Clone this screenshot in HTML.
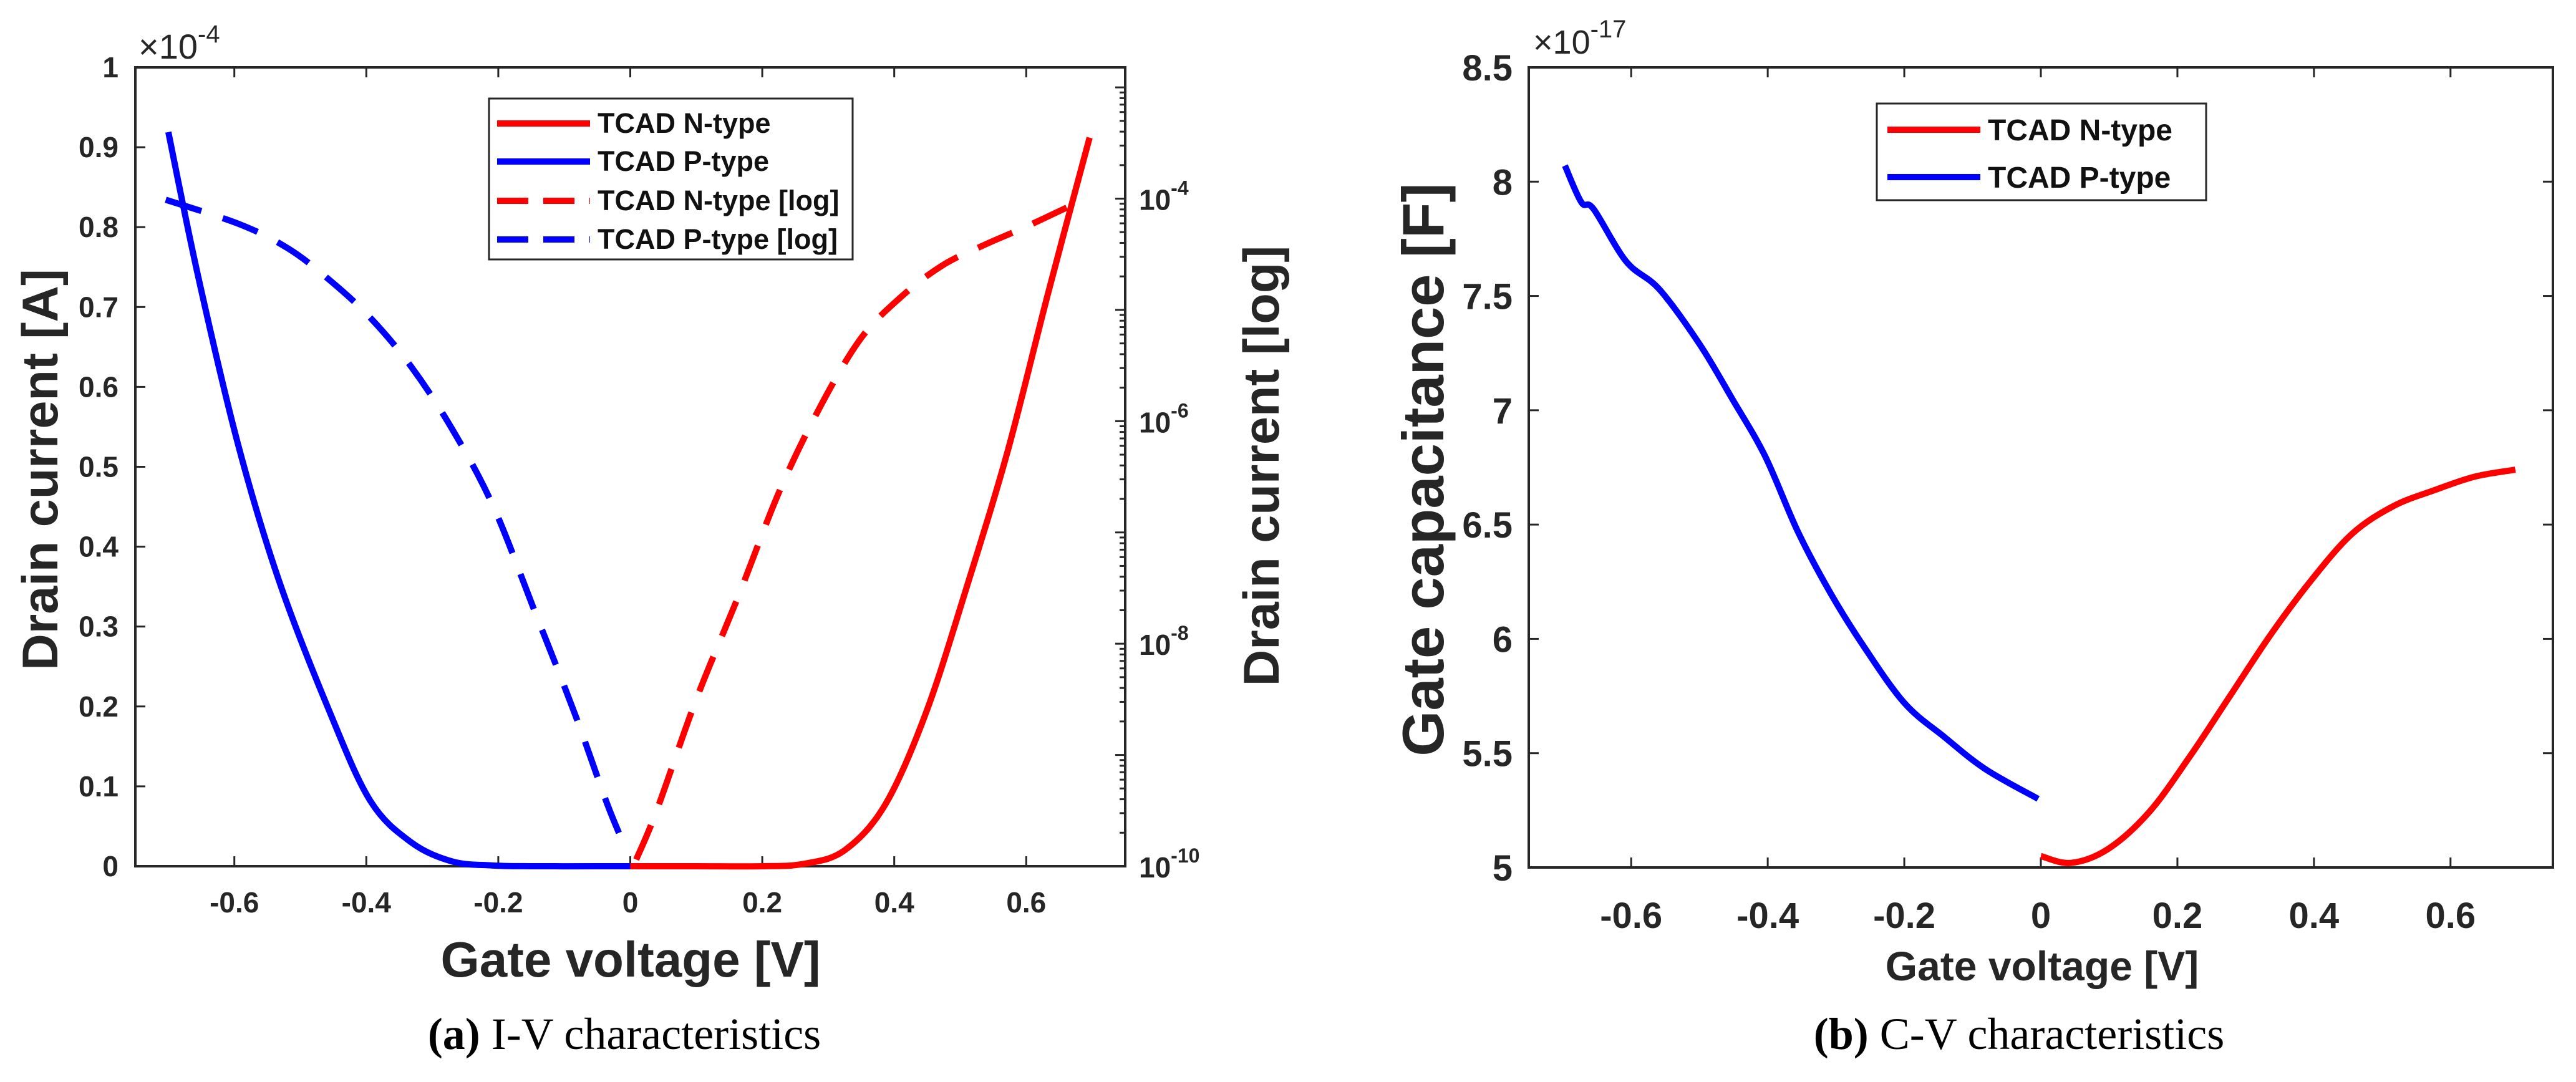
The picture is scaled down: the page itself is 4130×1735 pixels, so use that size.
<!DOCTYPE html>
<html><head><meta charset="utf-8"><style>
html,body{margin:0;padding:0;background:#fff;}
svg{display:block;}
text{font-family:"Liberation Sans",Arial,sans-serif;}
.tk{font-weight:bold;fill:#262626;}
</style></head>
<body>
<svg id="fig" width="4130" height="1735" viewBox="0 0 4130 1735" xmlns="http://www.w3.org/2000/svg">
<g id="pa"></g>
<g id="pb"></g>
<text x="1001" y="1682" text-anchor="middle" style="font-family:'Liberation Serif',serif;font-size:72px"><tspan font-weight="bold">(a)</tspan> I-V characteristics</text>
<text x="3237" y="1682" text-anchor="middle" style="font-family:'Liberation Serif',serif;font-size:72px"><tspan font-weight="bold">(b)</tspan> C-V characteristics</text>
</svg>
<script>
// ---- IV data (linear in 1e-4 A, log in log10 A)
const pX = [-0.7,-0.655,-0.595,-0.533,-0.456,-0.394,-0.332,-0.27,-0.21,-0.15,-0.05,0];
const pI = [0.919,0.739,0.53,0.359,0.194,0.082,0.03,0.006,0.001,0,0,0];
const nX = [0,0.1,0.2,0.263,0.325,0.387,0.449,0.51,0.572,0.634,0.696];
const nI = [0,0,0,0.003,0.02,0.078,0.194,0.35,0.52,0.72,0.912];
const pLogX = [-0.704,-0.592,-0.518,-0.456,-0.394,-0.332,-0.27,-0.208,-0.146,-0.084,-0.035,-0.004];
const pLog = [-4.01,-4.23,-4.45,-4.73,-5.07,-5.51,-6.07,-6.76,-7.69,-8.63,-9.44,-9.88];
const nLogX = [0.009,0.04,0.1,0.164,0.226,0.287,0.349,0.411,0.473,0.535,0.597,0.665];
const nLog = [-9.94,-9.5,-8.5,-7.57,-6.63,-5.88,-5.26,-4.88,-4.6,-4.42,-4.26,-4.07];
const xTicks = [-0.6,-0.4,-0.2,0,0.2,0.4,0.6];
const xTickLabels = ['-0.6','-0.4','-0.2','0','0.2','0.4','0.6'];
const yTicksA = [0,0.1,0.2,0.3,0.4,0.5,0.6,0.7,0.8,0.9,1];
const yTickLabelsA = ['0','0.1','0.2','0.3','0.4','0.5','0.6','0.7','0.8','0.9','1'];
const logTicks = [-10,-8,-6,-4];
// ---- CV data (1e-17 F)
const cvPX = [-0.697,-0.673,-0.655,-0.607,-0.559,-0.5,-0.452,-0.404,-0.356,-0.308,-0.26,-0.2,-0.141,-0.081,-0.004];
const cvPC = [8.07,7.91,7.88,7.65,7.53,7.29,7.05,6.8,6.47,6.2,5.97,5.72,5.57,5.43,5.3];
const cvNX = [0,0.044,0.098,0.158,0.217,0.277,0.337,0.397,0.456,0.516,0.576,0.636,0.695];
const cvNC = [5.05,5.02,5.08,5.24,5.48,5.75,6.02,6.26,6.46,6.58,6.65,6.71,6.74];
const yTicksB = [5,5.5,6,6.5,7,7.5,8,8.5];
const yTickLabelsB = ['5','5.5','6','6.5','7','7.5','8','8.5'];

const NS='http://www.w3.org/2000/svg';
function mk(parent,tag,attrs,txt){const e=document.createElementNS(NS,tag);for(const k in attrs)e.setAttribute(k,attrs[k]);if(txt!==undefined)e.textContent=txt;parent.appendChild(e);return e;}
function pathD(xs,ys,fx,fy){
  const P=xs.map((x,i)=>[fx(x),fy(ys[i])]);
  let d='M'+P[0][0].toFixed(1)+','+P[0][1].toFixed(1);
  for(let i=0;i<P.length-1;i++){
    const p0=P[Math.max(0,i-1)],p1=P[i],p2=P[i+1],p3=P[Math.min(P.length-1,i+2)];
    const c1=[p1[0]+(p2[0]-p0[0])/6,p1[1]+(p2[1]-p0[1])/6];
    const c2=[p2[0]-(p3[0]-p1[0])/6,p2[1]-(p3[1]-p1[1])/6];
    d+=' C'+c1.map(v=>v.toFixed(1)).join(',')+' '+c2.map(v=>v.toFixed(1)).join(',')+' '+p2.map(v=>v.toFixed(1)).join(',');
  }
  return d;
}

// ---- Chart A
(function(){
const g=document.getElementById('pa');
const L=217,R=1804,T=108,B=1389;
const fx=v=>L+(v+0.75)/1.5*(R-L);
const fy=v=>B-v*(B-T);
const LT=-2.82;
const fl=v=>B-(v+10)/(LT+10)*(B-T);
xTicks.forEach((t,i)=>{
  let e=mk(g,'line',{x1:fx(t),x2:fx(t),y1:B,y2:B-16,stroke:'#262626','stroke-width':3});
   
  e=mk(g,'line',{x1:fx(t),x2:fx(t),y1:T,y2:T+16,stroke:'#262626','stroke-width':3});
   
  e=mk(g,'text',{x:fx(t),y:1463,'text-anchor':'middle','font-size':46,class:'tk'},xTickLabels[i]);
   
});
yTicksA.forEach((t,i)=>{
  let e=mk(g,'line',{x1:L,x2:L+16,y1:fy(t),y2:fy(t),stroke:'#262626','stroke-width':3});
   
  e=mk(g,'text',{x:190,y:fy(t)+16,'text-anchor':'end','font-size':46,class:'tk'},yTickLabelsA[i]);
   
});
for(let d=-10;d<-2;d++){
  for(let m=1;m<10;m++){
    const v=d+Math.log10(m); if(v>LT) break;
    const len=m===1?16:9;
    const e=mk(g,'line',{x1:R,x2:R-len,y1:fl(v),y2:fl(v),stroke:'#262626','stroke-width':3});
     
  }
}
logTicks.forEach(t=>{
  const e=mk(g,'text',{x:1826,y:fl(t)+18,'font-size':46,class:'tk'});
   
  e.innerHTML='10<tspan dy="-24" font-size="32">'+t+'</tspan>';
});
let e=mk(g,'rect',{x:L,y:T,width:R-L,height:B-T,fill:'none',stroke:'#262626','stroke-width':4});
 
const series=[[pLogX,pLog,'#0000ff',true,'p-type-log-line'],[nLogX,nLog,'#ff0000',true,'n-type-log-line'],[pX,pI,'#0000ff',false,'p-type-line'],[nX,nI,'#ff0000',false,'n-type-line']];
series.forEach(s=>{
  const p=mk(g,'path',{d:pathD(s[0],s[1],fx,s[3]?fl:fy),fill:'none',stroke:s[2],'stroke-width':10,'stroke-linejoin':'round'});
  if(s[3]) p.setAttribute('stroke-dasharray','60 36');
   
});
e=mk(g,'text',{x:222,y:94,'font-size':56,fill:'#262626'});
 
e.innerHTML='×10<tspan dy="-26" font-size="40">-4</tspan>';
e=mk(g,'text',{x:1011,y:1566,'text-anchor':'middle','font-size':80,'font-weight':'bold',fill:'#262626'},'Gate voltage [V]');
 
e=mk(g,'text',{x:0,y:0,transform:'translate(92,753) rotate(-90)','text-anchor':'middle','font-size':81,'font-weight':'bold',fill:'#262626'},'Drain current [A]');
 
e=mk(g,'text',{x:0,y:0,transform:'translate(2050,747) rotate(-90)','text-anchor':'middle','font-size':81,'font-weight':'bold',fill:'#262626'},'Drain current [log]');
 
const lg=mk(g,'g',{});
 
mk(lg,'rect',{x:784,y:158,width:583,height:258,fill:'#fff',stroke:'#262626','stroke-width':3});
const names=['TCAD N-type','TCAD P-type','TCAD N-type [log]','TCAD P-type [log]'];
const cols=['#ff0000','#0000ff','#ff0000','#0000ff'];
const ly=[198,259,322,384];
names.forEach((n,i)=>{
  const l=mk(lg,'line',{x1:797,x2:946,y1:ly[i],y2:ly[i],stroke:cols[i],'stroke-width':10});
  if(i>1) l.setAttribute('stroke-dasharray','50 24');
   
  const t=mk(lg,'text',{x:958,y:ly[i]+15,'font-size':45,'font-weight':'bold',fill:'#111'},n);
   
});
})();

// ---- Chart B
(function(){
const g=document.getElementById('pb');
const L=2451,R=4093,T=108,B=1391;
const fx=v=>L+(v+0.75)/1.5*(R-L);
const fy=v=>B-(v-5)/3.5*(B-T);
xTicks.forEach((t,i)=>{
  let e=mk(g,'line',{x1:fx(t),x2:fx(t),y1:B,y2:B-16,stroke:'#262626','stroke-width':3});
   
  e=mk(g,'line',{x1:fx(t),x2:fx(t),y1:T,y2:T+16,stroke:'#262626','stroke-width':3});
   
  e=mk(g,'text',{x:fx(t),y:1488,'text-anchor':'middle','font-size':58,class:'tk'},xTickLabels[i]);
   
});
yTicksB.forEach((t,i)=>{
  let e=mk(g,'line',{x1:L,x2:L+16,y1:fy(t),y2:fy(t),stroke:'#262626','stroke-width':3});
   
  e=mk(g,'line',{x1:R,x2:R-16,y1:fy(t),y2:fy(t),stroke:'#262626','stroke-width':3});
   
  e=mk(g,'text',{x:2425,y:fy(t)+21,'text-anchor':'end','font-size':58,class:'tk'},yTickLabelsB[i]);
   
});
let e=mk(g,'rect',{x:L,y:T,width:R-L,height:B-T,fill:'none',stroke:'#262626','stroke-width':4});
 
e=mk(g,'path',{d:pathD(cvPX,cvPC,fx,fy),fill:'none',stroke:'#0000ff','stroke-width':10,'stroke-linejoin':'round'});
 
e=mk(g,'path',{d:pathD(cvNX,cvNC,fx,fy),fill:'none',stroke:'#ff0000','stroke-width':10,'stroke-linejoin':'round'});
 
e=mk(g,'text',{x:2458,y:86,'font-size':54,fill:'#262626'});
 
e.innerHTML='×10<tspan dy="-26" font-size="40">-17</tspan>';
e=mk(g,'text',{x:3274,y:1572,'text-anchor':'middle','font-size':66,'font-weight':'bold',fill:'#262626'},'Gate voltage [V]');
 
e=mk(g,'text',{x:0,y:0,transform:'translate(2314,753) rotate(-90)','text-anchor':'middle','font-size':94,'font-weight':'bold',fill:'#262626'},'Gate capacitance [F]');
 
const lg=mk(g,'g',{});
 
mk(lg,'rect',{x:3009,y:166,width:528,height:155,fill:'#fff',stroke:'#262626','stroke-width':3});
const names=['TCAD N-type','TCAD P-type'], cols=['#ff0000','#0000ff'], ly=[208,284];
names.forEach((n,i)=>{
  const l=mk(lg,'line',{x1:3026,x2:3175,y1:ly[i],y2:ly[i],stroke:cols[i],'stroke-width':10});
   
  const t=mk(lg,'text',{x:3187,y:ly[i]+17,'font-size':48,'font-weight':'bold',fill:'#111'},n);
   
});
})();
</script>
</body></html>
